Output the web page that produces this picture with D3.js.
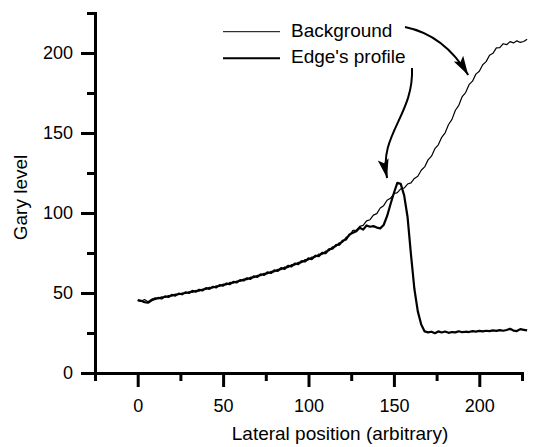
<!DOCTYPE html>
<html>
<head>
<meta charset="utf-8">
<script src="https://cdn.jsdelivr.net/npm/d3@7/dist/d3.min.js"></script>
<style>
  html, body { margin: 0; padding: 0; background: #fff; }
  svg { display: block; }
</style>
</head>
<body>
<svg id="chart" width="537" height="447"></svg>
<script>
// ---------------- data ----------------
const positions = [0,2,4,6,8,10,12,14,16,18,20,22,24,26,28,30,32,34,36,38,40,42,44,46,48,50,52,54,56,58,60,62,64,66,68,70,72,74,76,78,80,82,84,86,88,90,92,94,96,98,100,102,104,106,108,110,112,114,116,118,120,122,124,126,128,130,132,134,136,138,140,142,144,146,148,150,152,154,156,158,160,162,164,166,168,170,172,174,176,178,180,182,184,186,188,190,192,194,196,198,200,202,204,206,208,210,212,214,216,218,220,222,224,226,228];

const background = [45.2,44.8,45.9,44.6,46.0,46.9,46.5,47.6,47.2,48.4,48.1,49.3,48.9,49.9,49.7,50.8,50.4,51.6,51.2,52.5,52.3,53.6,53.1,54.5,54.2,55.6,55.1,56.6,56.2,57.5,57.3,58.7,58.3,59.9,59.6,61.0,60.8,62.3,62.0,63.5,63.2,64.8,64.6,66.2,65.9,67.7,67.4,69.2,69.0,70.9,70.7,72.5,72.4,74.3,74.2,76.2,76.4,78.8,79.0,81.4,81.7,84.8,85.8,89.1,89.3,91.6,92.3,95.1,95.8,98.7,99.6,103.1,104.6,108.0,109.2,112.0,112.7,115.1,115.6,118.1,118.8,121.6,123.0,126.7,128.8,133.2,135.5,140.2,142.6,147.3,150.1,155.3,158.5,164.2,167.3,172.8,175.3,180.2,182.4,186.8,188.6,192.7,194.6,198.6,199.8,203.2,203.3,205.8,205.2,207.1,206.3,207.6,206.6,207.2,208.6];

const edgeProfile = [45.6,45.1,44.3,43.9,45.3,46.2,46.9,46.6,47.9,47.5,48.8,48.4,49.6,49.2,50.4,50.0,51.3,50.8,52.0,51.6,53.0,52.6,53.9,53.5,54.9,54.6,55.9,55.6,57.0,56.6,58.1,57.8,59.2,58.8,60.4,60.1,61.7,61.3,62.9,62.5,64.1,63.8,65.5,65.1,66.9,66.6,68.4,68.1,69.9,69.7,71.6,71.2,73.3,73.0,75.1,74.9,77.3,77.7,79.9,80.2,82.6,83.5,86.6,87.6,88.6,90.8,89.6,92.2,91.4,91.8,90.9,90.4,92.5,98.0,105.5,112.5,118.8,118.2,111.0,97.5,74.0,52.5,38.5,30.3,26.0,25.4,25.8,24.9,26.0,25.3,25.9,25.1,25.6,25.4,26.1,25.5,25.8,25.6,26.2,25.9,26.3,26.0,26.4,26.2,26.6,26.3,26.8,26.4,26.9,27.6,26.5,26.2,27.4,27.0,26.6];

const xMajorTicks = [0, 50, 100, 150, 200];
const xMinorTicks = [-25, 25, 75, 125, 175, 225];
const yMajorTicks = [0, 50, 100, 150, 200];
const yMinorTicks = [25, 75, 125, 175, 225];
const seriesNames = ["Background", "Edge's profile"];
const xTitle = "Lateral position (arbitrary)";
const yTitle = "Gary level";

// annotation arrows, in data units: [start, control1, control2, end]
const arrowBackground = [[156.5, 216.3], [171.2, 213.1], [184.1, 203.1], [193.5, 186.3]];
const arrowEdge = [[160.6, 190.6], [161.8, 161.3], [140.7, 148.8], [146.0, 121.9]];

// ---------------- drawing ----------------
const FONT = '"Liberation Sans", Arial, sans-serif';
const svg = d3.select("#chart");
const x = d3.scaleLinear().domain([-25, 225]).range([95, 522]);
const y = d3.scaleLinear().domain([0, 225]).range([373, 13]);

const defs = svg.append("defs");
defs.append("marker")
  .attr("id", "head")
  .attr("markerUnits", "userSpaceOnUse")
  .attr("markerWidth", 20).attr("markerHeight", 14)
  .attr("viewBox", "0 0 20 14")
  .attr("refX", 19).attr("refY", 7)
  .attr("orient", "auto")
  .append("path").attr("d", "M0,1.5 L19,7 L0,12.5 L4,7 Z").attr("fill", "#000");

// x axis
const gx = svg.append("g").attr("transform", `translate(0,${y(0)})`);
gx.call(d3.axisBottom(x).tickValues(xMinorTicks).tickSize(8).tickSizeOuter(0).tickFormat(""));
gx.append("g").call(d3.axisBottom(x).tickValues(xMajorTicks).tickSize(14).tickSizeOuter(0).tickPadding(12));
gx.selectAll("g > path.domain").filter((d, i) => i > 0).remove();

// y axis
const gy = svg.append("g").attr("transform", `translate(${x(-25)},0)`);
gy.call(d3.axisLeft(y).tickValues(yMinorTicks).tickSize(8).tickSizeOuter(0).tickFormat(""));
gy.append("g").call(d3.axisLeft(y).tickValues(yMajorTicks).tickSize(14).tickSizeOuter(0).tickPadding(8));
gy.selectAll("g g path.domain").remove();

svg.selectAll("g").attr("font-family", FONT);
svg.selectAll(".domain").attr("stroke", "#000").attr("stroke-width", 3).attr("stroke-linecap", "square");
svg.selectAll(".tick line").attr("stroke", "#000").attr("stroke-width", 3);
svg.selectAll(".tick text").attr("font-size", 18).attr("font-family", FONT).attr("fill", "#000");

// axis titles
svg.append("text").attr("x", 340).attr("y", 440).attr("text-anchor", "middle").attr("font-family", FONT).attr("font-size", 19).text(xTitle);
svg.append("text").attr("transform", "translate(27,197.5) rotate(-90)").attr("text-anchor", "middle").attr("font-family", FONT).attr("font-size", 19).text(yTitle);

// series
const bgPts = positions.map((p, i) => [p, background[i]]);
const edPts = positions.map((p, i) => [p, edgeProfile[i]]);
const line = d3.line().x(d => x(d[0])).y(d => y(d[1])).curve(d3.curveLinear);

svg.append("path").attr("d", line(edPts)).attr("fill", "none").attr("stroke", "#000").attr("stroke-width", 2.2).attr("stroke-linejoin", "round");
svg.append("path").attr("d", line(bgPts)).attr("fill", "none").attr("stroke", "#000").attr("stroke-width", 1.2).attr("stroke-linejoin", "round");

// legend
const legend = svg.append("g");
const legendWidths = [1, 2];
seriesNames.forEach((name, i) => {
  const ly = 31.7 + i * 26.6;
  legend.append("line").attr("x1", 223).attr("x2", 280).attr("y1", ly).attr("y2", ly)
    .attr("stroke", "#000").attr("stroke-width", legendWidths[i]);
  legend.append("text").attr("x", 291).attr("y", ly + 5).attr("font-family", FONT).attr("font-size", 19).text(name);
});

// arrows
function arrowPath(pts) {
  const p = pts.map(d => [x(d[0]), y(d[1])]);
  const path = d3.path();
  path.moveTo(p[0][0], p[0][1]);
  path.bezierCurveTo(p[1][0], p[1][1], p[2][0], p[2][1], p[3][0], p[3][1]);
  return path.toString();
}
[arrowBackground, arrowEdge].forEach(a => {
  svg.append("path").attr("d", arrowPath(a)).attr("fill", "none").attr("stroke", "#000")
    .attr("stroke-width", 2).attr("marker-end", "url(#head)");
});
</script>
</body>
</html>
